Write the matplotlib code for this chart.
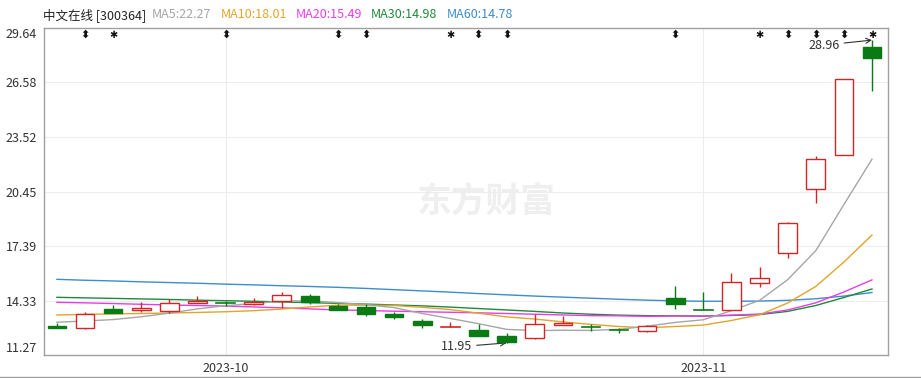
import matplotlib
matplotlib.use("Agg")
import matplotlib.pyplot as plt
from matplotlib.patches import Rectangle
from matplotlib.lines import Line2D

plt.rcParams['font.family'] = ['Noto Sans CJK SC', 'DejaVu Sans']

# daily bars, 2023-09-21 .. 2023-11-09
opens = [12.92, 12.80, 13.85, 13.80, 13.74, 14.21, 14.19, 14.15, 14.32, 14.58,
         14.04, 13.97, 13.57, 13.18, 12.82, 12.67, 12.34, 12.22, 12.97, 12.85,
         12.67, 12.60, 14.45, 13.80, 13.78, 15.30, 16.98, 20.58, 22.49, 28.56]
highs = [13.05, 13.67, 14.08, 14.23, 14.42, 14.60, 14.30, 14.49, 14.79, 14.70,
         14.13, 14.13, 13.70, 13.29, 13.14, 12.99, 12.49, 13.56, 13.48, 13.01,
         12.80, 12.95, 15.15, 14.79, 15.89, 16.20, 18.72, 22.45, 26.76, 28.96]
lows = [12.77, 12.75, 13.65, 13.70, 13.61, 14.21, 14.02, 14.08, 13.93, 14.12,
        13.81, 13.46, 13.28, 12.77, 12.82, 12.35, 11.95, 12.17, 12.94, 12.63,
        12.51, 12.54, 13.84, 13.78, 13.78, 15.07, 16.74, 19.83, 22.49, 26.12]
closes = [12.80, 13.56, 13.65, 13.90, 14.17, 14.32, 14.15, 14.26, 14.62, 14.23,
          13.81, 13.59, 13.40, 12.97, 12.83, 12.35, 12.02, 13.03, 13.05, 12.82,
          12.65, 12.88, 14.12, 13.78, 15.35, 15.58, 18.67, 22.26, 26.76, 27.97]

ma5 = [13.11, 13.18, 13.26, 13.42, 13.62, 13.86, 14.04, 14.16, 14.30, 14.32,
       14.21, 14.10, 13.93, 13.60, 13.32, 13.03, 12.71, 12.64, 12.66, 12.65,
       12.71, 12.89, 13.10, 13.25, 13.76, 14.34, 15.50, 17.13, 19.72, 22.27]
ma10 = [13.52, 13.55, 13.58, 13.60, 13.63, 13.66, 13.70, 13.76, 13.85, 13.97,
        14.07, 14.07, 14.05, 13.95, 13.82, 13.62, 13.41, 13.29, 13.13, 12.99,
        12.87, 12.80, 12.87, 12.95, 13.21, 13.53, 14.19, 15.12, 16.49, 18.01]
ma20 = [14.23, 14.20, 14.16, 14.12, 14.08, 14.05, 14.02, 13.97, 13.92, 13.86,
        13.80, 13.77, 13.73, 13.70, 13.67, 13.64, 13.60, 13.56, 13.52, 13.48,
        13.47, 13.44, 13.46, 13.45, 13.51, 13.57, 13.80, 14.20, 14.81, 15.49]
ma30 = [14.51, 14.48, 14.45, 14.42, 14.39, 14.35, 14.32, 14.29, 14.25, 14.21,
        14.17, 14.13, 14.08, 14.03, 13.96, 13.88, 13.80, 13.72, 13.63, 13.56,
        13.51, 13.48, 13.47, 13.46, 13.49, 13.54, 13.72, 14.05, 14.50, 14.98]
ma60 = [15.52, 15.47, 15.43, 15.38, 15.34, 15.30, 15.25, 15.21, 15.16, 15.12,
        15.07, 15.01, 14.94, 14.87, 14.80, 14.72, 14.65, 14.58, 14.52, 14.46,
        14.40, 14.35, 14.31, 14.29, 14.29, 14.30, 14.34, 14.43, 14.58, 14.78]

ma_names = ["MA5", "MA10", "MA20", "MA30", "MA60"]
ma_colors = ["#a6a6a6", "#e0a52a", "#ea3ce6", "#1f8a3a", "#3d8ccc"]

y_ticks = [11.27, 14.33, 17.39, 20.45, 23.52, 26.58, 29.64]
month_idx = [6, 23]
month_labels = ["2023-10", "2023-11"]

arrow_marks = [1, 6, 10, 11, 15, 16, 22, 26, 27, 28]
star_marks = [2, 14, 25, 29]

UP = "#d42424"
DOWN = "#0a7a14"


def draw_candles(ax):
    w = 0.66
    for i, (o, h, l, c) in enumerate(zip(opens, highs, lows, closes)):
        up = c >= o
        col = UP if up else DOWN
        ax.plot([i, i], [l, h], color=col, lw=1, zorder=3, solid_capstyle='butt')
        lo, hi = min(o, c), max(o, c)
        if hi - lo < 0.04:
            ax.plot([i - w / 2, i + w / 2], [o, o], color=col, lw=1.2, zorder=4)
        else:
            ax.add_patch(Rectangle((i - w / 2, lo), w, hi - lo,
                                   facecolor="white" if up else col,
                                   edgecolor=col, lw=1, zorder=4))


def main():
    fig = plt.figure(figsize=(9.21, 3.78), dpi=100)
    ax = fig.add_axes([44 / 921, 23 / 378, 844 / 921, 327 / 378])

    n = len(closes)
    x = list(range(n))
    ax.set_xlim(-0.46, 29.57)
    ax.set_ylim(y_ticks[0], y_ticks[-1])

    # watermark
    ax.text(0.524, 0.47, "东方财富", transform=ax.transAxes, ha='center', va='center',
            fontsize=25, fontweight='bold', color='#efefef', zorder=0)

    for vals, col in zip([ma60, ma30, ma20, ma10, ma5], ma_colors[::-1]):
        ax.plot(x, vals, color=col, lw=1, zorder=2)

    draw_candles(ax)

    for i in arrow_marks:
        ax.text(i, 0.978, "⬍", transform=ax.get_xaxis_transform(), ha='center', va='center',
                fontsize=8, family='DejaVu Sans', color='#111', fontweight='bold')
    for i in star_marks:
        ax.text(i, 0.978, "✱", transform=ax.get_xaxis_transform(), ha='center', va='center',
                fontsize=7, family='DejaVu Sans', color='#111')

    hi_i = highs.index(max(highs))
    lo_i = lows.index(min(lows))
    ax.annotate(f"{highs[hi_i]:.2f}", xy=(hi_i, highs[hi_i]), xytext=(-32, -5),
                textcoords='offset pixels', ha='right', va='center', fontsize=9, color='#333',
                arrowprops=dict(arrowstyle='->', color='#333', lw=0.8, shrinkA=1, shrinkB=0))
    ax.annotate(f"{lows[lo_i]:.2f}", xy=(lo_i, lows[lo_i]), xytext=(-34, -4),
                textcoords='offset pixels', ha='right', va='center', fontsize=9, color='#333',
                arrowprops=dict(arrowstyle='->', color='#333', lw=0.8, shrinkA=1, shrinkB=0))

    ax.set_yticks(y_ticks)
    ax.set_yticklabels([f"{v:.2f}" for v in y_ticks])
    labels = ax.get_yticklabels()
    labels[0].set_va('bottom')
    labels[-1].set_va('top')
    ax.set_xticks(month_idx)
    ax.set_xticklabels(month_labels)
    ax.tick_params(length=0, labelsize=9, labelcolor='#333', pad=5)
    ax.grid(True, color='#ededed', lw=0.8, zorder=0)
    ax.set_axisbelow(True)
    for s in ax.spines.values():
        s.set_color('#a0a0a0')
        s.set_linewidth(1)

    fig.add_artist(Line2D([0, 1], [1 / 378, 1 / 378], color='#a0a0a0', lw=1))

    # header line
    last = [ma5[-1], ma10[-1], ma20[-1], ma30[-1], ma60[-1]]
    fig.text(43 / 921, 1 - 15 / 378, "中文在线 [300364]", fontsize=9, color='#222', va='center')
    xs = [152, 221, 296, 371, 447]
    for px, name, v, col in zip(xs, ma_names, last, ma_colors):
        fig.text(px / 921, 1 - 15 / 378, f"{name}:{v:.2f}", fontsize=9, color=col, va='center')

    fig.savefig("out.png", dpi=100)


if __name__ == '__main__':
    main()
